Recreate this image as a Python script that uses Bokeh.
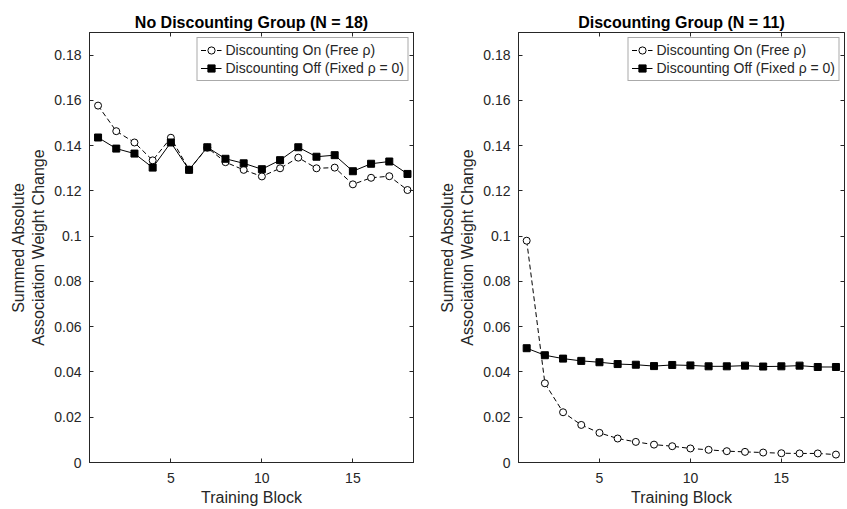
from bokeh.plotting import figure
from bokeh.layouts import row
from bokeh.models import LinearAxis, FixedTicker, CustomJSTickFormatter, Range1d
from bokeh.embed import file_html
from bokeh.resources import INLINE

# ---------------- data ----------------
blocks = list(range(1, 19))
nodisc_on = [0.1577, 0.1464, 0.1414, 0.1335, 0.1435, 0.1294, 0.1391, 0.1327, 0.1293,
             0.1264, 0.1300, 0.1347, 0.1300, 0.1303, 0.1229, 0.1258, 0.1265, 0.1204]
nodisc_off = [0.1436, 0.1387, 0.1365, 0.1303, 0.1414, 0.1293, 0.1393, 0.1342, 0.1322,
              0.1296, 0.1336, 0.1393, 0.1351, 0.1358, 0.1287, 0.1320, 0.1330, 0.1275]
disc_on = [0.0980, 0.0350, 0.0222, 0.0166, 0.0131, 0.0106, 0.0091, 0.0079, 0.0072,
           0.0062, 0.0056, 0.0050, 0.0047, 0.0044, 0.0041, 0.0040, 0.0040, 0.0035]
disc_off = [0.0505, 0.0474, 0.0459, 0.0449, 0.0443, 0.0435, 0.0432, 0.0426, 0.0431,
            0.0429, 0.0425, 0.0425, 0.0428, 0.0424, 0.0425, 0.0428, 0.0422, 0.0422]

x_ticks = [5, 10, 15]
y_ticks = [0, 0.02, 0.04, 0.06, 0.08, 0.1, 0.12, 0.14, 0.16, 0.18]
y_tick_labels = ["0", "0.02", "0.04", "0.06", "0.08", "0.1", "0.12", "0.14", "0.16", "0.18"]

titles = ["No Discounting Group (N = 18)", "Discounting Group (N = 11)"]
label_on = "Discounting On (Free \u03c1)"
label_off = "Discounting Off (Fixed \u03c1 = 0)"
x_label = "Training Block"
y_label = "Summed Absolute\nAssociation Weight Change"

FONT = "Liberation Sans"
AX = "#262626"


def y_formatter():
    return CustomJSTickFormatter(
        args=dict(yt=y_ticks, yl=y_tick_labels),
        code="const i = yt.findIndex(t => Math.abs(t - tick) < 1e-9); return i >= 0 ? yl[i] : '';",
    )


def style_axis(ax, show_labels=True):
    ax.axis_line_color = AX
    ax.axis_line_width = 1
    ax.major_tick_line_color = AX
    ax.major_tick_in = 4
    ax.major_tick_out = 0
    ax.minor_tick_line_color = None
    ax.major_label_text_font = FONT
    ax.major_label_text_color = AX
    ax.major_label_text_font_size = "14px"
    if not show_labels:
        ax.formatter = CustomJSTickFormatter(code="return '';")
        ax.major_label_standoff = 0


def make_panel(title, on, off, xr, width, mbl, mbr):
    p = figure(width=width, height=509, x_range=Range1d(*xr), y_range=Range1d(0, 0.19),
               output_backend="svg", toolbar_location=None,
               min_border_left=mbl, min_border_right=mbr,
               min_border_top=32, min_border_bottom=47)
    p.title.text = title
    p.title.align = "center"
    p.title.text_font = FONT
    p.title.text_font_size = "16px"
    p.title.text_font_style = "bold"
    p.title.text_color = "#000000"
    p.title.standoff = 4
    p.xgrid.visible = False
    p.ygrid.visible = False
    p.outline_line_color = AX
    p.outline_line_alpha = 1
    p.outline_line_width = 1
    p.background_fill_color = "white"
    p.border_fill_color = "white"

    p.xaxis.ticker = FixedTicker(ticks=x_ticks)
    p.yaxis.ticker = FixedTicker(ticks=y_ticks)
    p.yaxis.formatter = y_formatter()
    for ax in p.xaxis + p.yaxis:
        style_axis(ax)
        ax.axis_label_text_font = FONT
        ax.axis_label_text_font_size = "16px"
        ax.axis_label_text_font_style = "normal"
        ax.axis_label_text_color = AX
    p.xaxis.axis_label = x_label
    p.xaxis.major_label_standoff = 10
    p.xaxis.axis_label_standoff = 3
    p.yaxis.axis_label = y_label
    p.yaxis.major_label_standoff = 8
    p.yaxis.axis_label_standoff = 4

    top = LinearAxis(ticker=FixedTicker(ticks=x_ticks))
    style_axis(top, show_labels=False)
    p.add_layout(top, "above")
    right = LinearAxis(ticker=FixedTicker(ticks=y_ticks))
    style_axis(right, show_labels=False)
    p.add_layout(right, "right")

    p.line(blocks, on, line_color="black", line_width=1, line_dash="5 3", legend_label=label_on)
    p.scatter(blocks, on, marker="circle", size=7, fill_color="white", line_color="black",
              line_width=1, legend_label=label_on)
    p.line(blocks, off, line_color="black", line_width=1, legend_label=label_off)
    p.scatter(blocks, off, marker="square", size=7, fill_color="black", line_color="black",
              line_width=1, legend_label=label_off)

    lg = p.legend[0]
    lg.location = "top_right"
    lg.margin = 5
    lg.padding = 3
    lg.spacing = 0
    lg.glyph_width = 21
    lg.glyph_height = 18
    lg.label_height = 18
    lg.label_standoff = 4
    lg.label_text_font = FONT
    lg.label_text_font_size = "14px"
    lg.label_text_color = AX
    lg.border_line_color = "#555555"
    lg.border_line_width = 1
    lg.background_fill_color = "white"
    lg.background_fill_alpha = 1
    return p


p1 = make_panel(titles[0], nodisc_on, nodisc_off, (0.53, 18.33), 430, 89, 17)
p2 = make_panel(titles[1], disc_on, disc_off, (0.55, 18.47), 417, 88, 3)

layout = row(p1, p2)
open("out.html", "w").write(file_html(layout, INLINE))
